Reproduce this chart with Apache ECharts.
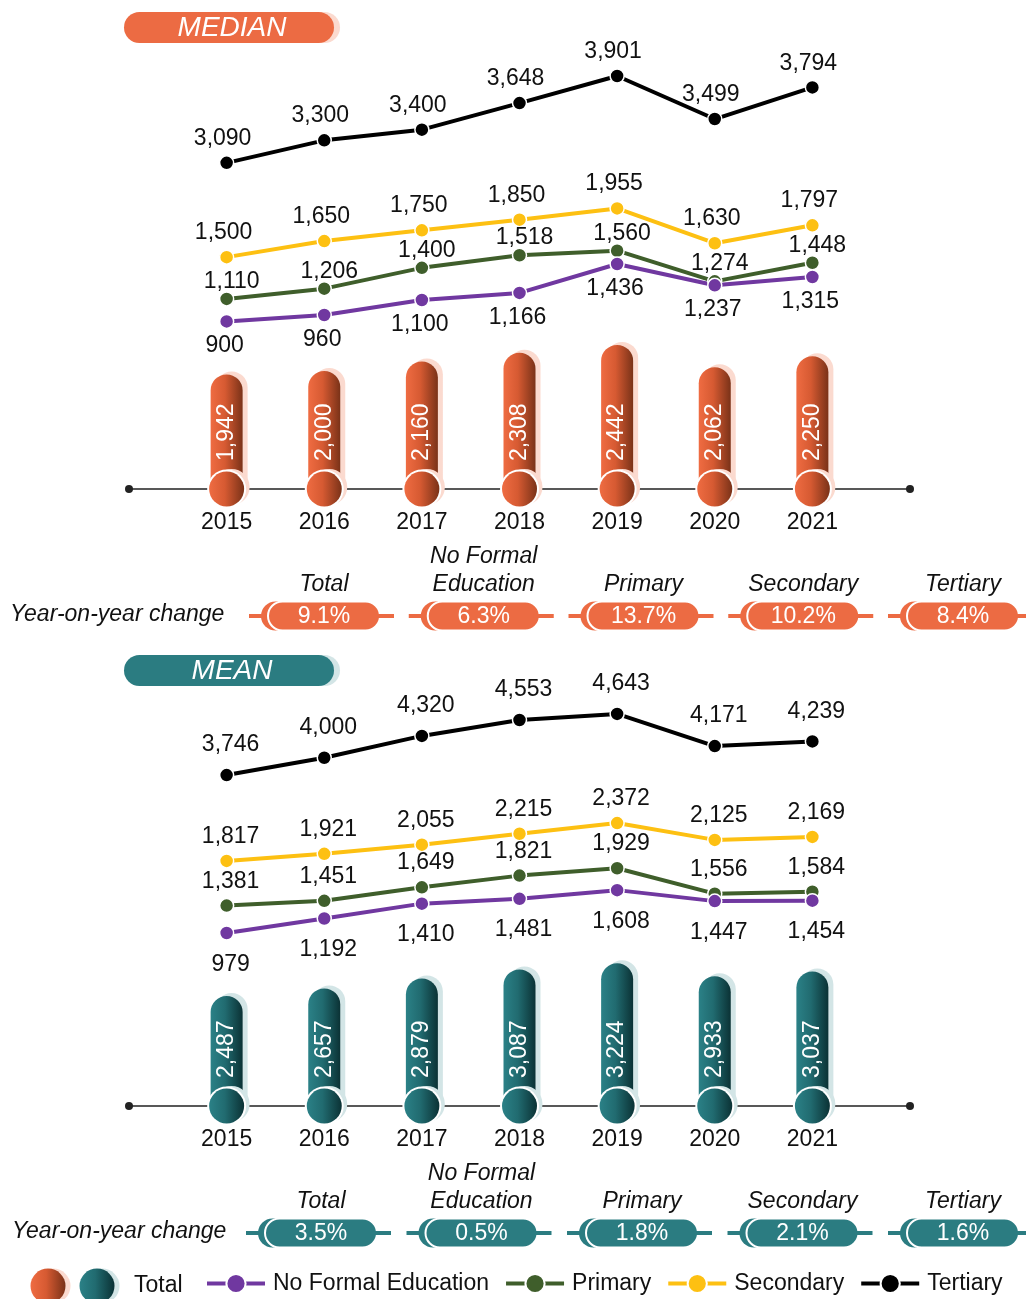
<!DOCTYPE html>
<html><head><meta charset="utf-8">
<script src="https://cdn.jsdelivr.net/npm/echarts@6/dist/echarts.min.js"></script>
<style>html,body{margin:0;padding:0;background:#fff}#c{width:1026px;height:1299px}</style>
</head><body><div id="c"></div>
<script>
// ---------- data ----------
const years = ['2015','2016','2017','2018','2019','2020','2021'];
const axisCats = [' ', '2015','2016','2017','2018','2019','2020','2021', '  '];
const medianTotal = [1942, 2000, 2160, 2308, 2442, 2062, 2250];
const medianNoFormal = [900, 960, 1100, 1166, 1436, 1237, 1315];
const medianPrimary = [1110, 1206, 1400, 1518, 1560, 1274, 1448];
const medianSecondary = [1500, 1650, 1750, 1850, 1955, 1630, 1797];
const medianTertiary = [3090, 3300, 3400, 3648, 3901, 3499, 3794];
const meanTotal = [2487, 2657, 2879, 3087, 3224, 2933, 3037];
const meanNoFormal = [979, 1192, 1410, 1481, 1608, 1447, 1454];
const meanPrimary = [1381, 1451, 1649, 1821, 1929, 1556, 1584];
const meanSecondary = [1817, 1921, 2055, 2215, 2372, 2125, 2169];
const meanTertiary = [3746, 4000, 4320, 4553, 4643, 4171, 4239];
const yoyCats = ['Total', 'No Formal\nEducation', 'Primary', 'Secondary', 'Tertiary'];
const medianYoY = [9.1, 6.3, 13.7, 10.2, 8.4];
const meanYoY = [3.5, 0.5, 1.8, 2.1, 1.6];
const seriesNames = ['No Formal Education', 'Primary', 'Secondary', 'Tertiary'];

// ---------- style ----------
const FONT = "'Liberation Sans', Arial, Helvetica, sans-serif";
const COL = { nfe: '#7038A0', pri: '#3F5E2B', sec: '#FDC012', ter: '#000000',
  orange: '#EC6B43', teal: '#2B7C81', orangePale: '#FBDACF', tealPale: '#D3E5E6' };
const gradOrange = { type: 'linear', x: 0, y: 0, x2: 1, y2: 0,
  colorStops: [{ offset: 0, color: '#EF6C42' }, { offset: 0.45, color: '#D65A32' }, { offset: 1, color: '#7A3218' }] };
const gradTeal = { type: 'linear', x: 0, y: 0, x2: 1, y2: 0,
  colorStops: [{ offset: 0, color: '#2B8187' }, { offset: 0.45, color: '#216B70' }, { offset: 1, color: '#0B3235' }] };

const fmt = v => Number(v).toLocaleString('en-US');
const pairs = arr => arr.map((v, i) => [years[i], v]);

function lineSeries(name, data, color, xi, yi, pos, off) {
  return { type: 'line', name, xAxisIndex: xi, yAxisIndex: yi, data: pairs(data),
    symbol: 'circle', symbolSize: 14, z: 5, silent: true,
    lineStyle: { color, width: 4 },
    itemStyle: { color, borderColor: '#fff', borderWidth: 1.5 },
    label: { show: true, position: pos, distance: 5, offset: off, color: '#111',
      fontSize: 23, fontFamily: FONT, formatter: p => fmt(p.value[1]) } };
}
function barSeries(name, data, grad, pale, xi, yi) {
  return { type: 'bar', name, xAxisIndex: xi, yAxisIndex: yi, data: pairs(data),
    barWidth: 32, z: 2, silent: true,
    itemStyle: { color: grad, borderRadius: [16, 16, 0, 0],
      shadowColor: pale, shadowOffsetX: 5, shadowOffsetY: -3, shadowBlur: 0 },
    label: { show: true, position: 'insideBottom', distance: 28, rotate: 90,
      align: 'left', verticalAlign: 'middle', color: '#fff', fontSize: 23, fontFamily: FONT,
      formatter: p => fmt(p.value[1]) } };
}
// round knob at the foot of each Total bar, positioned through the axes
function baseSeries(name, data, grad, pale, xi, yi) {
  return { type: 'custom', name, xAxisIndex: xi, yAxisIndex: yi, z: 4, silent: true, clip: false,
    data: data.map((v, i) => [years[i], v]),
    renderItem(params, api) {
      const p = api.coord([api.value(0), 0]);
      const cx = p[0], cy = p[1];
      return { type: 'group', children: [
        { type: 'circle', shape: { cx: cx + 5, cy: cy - 2, r: 18 }, style: { fill: pale } },
        { type: 'circle', shape: { cx: cx, cy: cy, r: 19.5 }, style: { fill: '#fff' } },
        { type: 'circle', shape: { cx: cx, cy: cy, r: 17.5 }, style: { fill: grad } }
      ] };
    } };
}
function yoySeries(vals, color, xi, yi) {
  return { type: 'custom', xAxisIndex: xi, yAxisIndex: yi, silent: true, z: 3, clip: false,
    data: vals.map((v, i) => [i, v]),
    renderItem(params, api) {
      const p = api.coord([api.value(0), 0]);
      const cx = p[0], cy = p[1];
      const v = api.value(1);
      return { type: 'group', children: [
        { type: 'line', shape: { x1: cx - 75, y1: cy, x2: cx - 50, y2: cy }, style: { stroke: color, lineWidth: 4 } },
        { type: 'rect', shape: { x: cx - 63, y: cy - 14.5, width: 112, height: 29, r: 14.5 }, style: { fill: color } },
        { type: 'rect', shape: { x: cx - 56, y: cy - 14.5, width: 112, height: 29, r: 14.5 }, style: { fill: color, stroke: '#fff', lineWidth: 2 } },
        { type: 'line', shape: { x1: cx + 50, y1: cy, x2: cx + 70, y2: cy }, style: { stroke: color, lineWidth: 4 } },
        { type: 'text', style: { x: cx, y: cy + 1, text: v.toFixed(1) + '%', align: 'center', verticalAlign: 'middle',
          fill: '#fff', fontSize: 23, fontFamily: FONT } }
      ] };
    } };
}

const hiddenCat = (gi) => ({ type: 'category', gridIndex: gi, data: axisCats, boundaryGap: false, show: false });
const yearAxis = (gi) => ({ type: 'category', gridIndex: gi, data: axisCats, boundaryGap: false,
  axisLine: { show: true, lineStyle: { color: '#222', width: 1.5 }, symbol: ['circle', 'circle'], symbolSize: [8, 8] },
  axisTick: { show: false },
  axisLabel: { interval: 0, margin: 22, fontSize: 23, color: '#111', fontFamily: FONT } });
const yoyAxis = (gi) => ({ type: 'category', gridIndex: gi, data: yoyCats, boundaryGap: false, position: 'top',
  axisLine: { show: false }, axisTick: { show: false },
  axisLabel: { interval: 0, margin: 3, fontSize: 23, lineHeight: 28, fontStyle: 'italic', color: '#111', fontFamily: FONT } });
const hy = (gi, min, max) => ({ type: 'value', gridIndex: gi, min, max, show: false, splitLine: { show: false } });

const option = {
  animation: false,
  backgroundColor: '#fff',
  grid: [
    { left: 129, right: 116, top: 60, height: 300 },   // 0 median lines
    { left: 129, right: 116, top: 312, height: 177 },  // 1 median bars
    { left: 324, right: 63, top: 602, height: 28 },    // 2 median yoy
    { left: 129, right: 116, top: 680, height: 300 },  // 3 mean lines
    { left: 129, right: 116, top: 929, height: 177 },  // 4 mean bars
    { left: 321, right: 63, top: 1219, height: 28 }    // 5 mean yoy
  ],
  xAxis: [hiddenCat(0), yearAxis(1), yoyAxis(2), hiddenCat(3), yearAxis(4), yoyAxis(5)],
  yAxis: [
    hy(0, 540, 3340), hy(0, 1250, 4050),
    hy(1, 0, 3000),
    hy(2, -1, 1),
    hy(3, 290, 4690), hy(3, 70, 4470), hy(3, 740, 5140),
    hy(4, 0, 4000),
    hy(5, -1, 1)
  ],
  legend: {
    data: seriesNames, left: 205, top: 1272, padding: 0, itemWidth: 58, itemHeight: 24, itemGap: 15,
    selectedMode: false,
    lineStyle: { width: 4 },
    textStyle: { fontSize: 23, color: '#111', fontFamily: FONT, padding: [0, 0, 0, 3] }
  },
  series: [
    lineSeries('Tertiary', medianTertiary, COL.ter, 0, 1, 'top', [-4, 0]),
    lineSeries('Secondary', medianSecondary, COL.sec, 0, 0, 'top', [-3, 0]),
    lineSeries('Primary', medianPrimary, COL.pri, 0, 0, 'top', [5, 7]),
    lineSeries('No Formal Education', medianNoFormal, COL.nfe, 0, 0, 'bottom', [-2, 0]),
    barSeries('Median total', medianTotal, gradOrange, COL.orangePale, 1, 2),
    baseSeries('Median base', medianTotal, gradOrange, COL.orangePale, 1, 2),
    yoySeries(medianYoY, COL.orange, 2, 3),
    lineSeries('Tertiary', meanTertiary, COL.ter, 3, 6, 'top', [4, -6]),
    lineSeries('Secondary', meanSecondary, COL.sec, 3, 5, 'top', [4, 0]),
    lineSeries('Primary', meanPrimary, COL.pri, 3, 4, 'top', [4, 0]),
    lineSeries('No Formal Education', meanNoFormal, COL.nfe, 3, 4, 'bottom', [4, 7]),
    barSeries('Mean total', meanTotal, gradTeal, COL.tealPale, 4, 7),
    baseSeries('Mean base', meanTotal, gradTeal, COL.tealPale, 4, 7),
    yoySeries(meanYoY, COL.teal, 5, 8)
  ],
  graphic: [
    // MEDIAN title pill
    { type: 'rect', shape: { x: 130, y: 12, width: 210, height: 31, r: 15.5 }, style: { fill: COL.orangePale }, silent: true },
    { type: 'rect', shape: { x: 124, y: 12, width: 210, height: 31, r: 15.5 }, style: { fill: COL.orange }, silent: true },
    { type: 'text', style: { x: 232, y: 28, text: 'MEDIAN', align: 'center', verticalAlign: 'middle', fill: '#fff',
      font: "italic 28px 'Liberation Sans', Arial, sans-serif" }, silent: true },
    // MEAN title pill
    { type: 'rect', shape: { x: 130, y: 655, width: 210, height: 31, r: 15.5 }, style: { fill: COL.tealPale }, silent: true },
    { type: 'rect', shape: { x: 124, y: 655, width: 210, height: 31, r: 15.5 }, style: { fill: COL.teal }, silent: true },
    { type: 'text', style: { x: 232, y: 671, text: 'MEAN', align: 'center', verticalAlign: 'middle', fill: '#fff',
      font: "italic 28px 'Liberation Sans', Arial, sans-serif" }, silent: true },
    // Year-on-year change labels
    { type: 'text', style: { x: 10, y: 615, text: 'Year-on-year change', align: 'left', verticalAlign: 'middle', fill: '#111',
      font: "italic 23px 'Liberation Sans', Arial, sans-serif" }, silent: true },
    { type: 'text', style: { x: 12, y: 1232, text: 'Year-on-year change', align: 'left', verticalAlign: 'middle', fill: '#111',
      font: "italic 23px 'Liberation Sans', Arial, sans-serif" }, silent: true },
    // Total legend entry
    { type: 'circle', shape: { cx: 53, cy: 1286, r: 17.5 }, style: { fill: COL.orangePale }, silent: true },
    { type: 'circle', shape: { cx: 48, cy: 1286, r: 17.5 }, style: { fill: gradOrange }, silent: true },
    { type: 'circle', shape: { cx: 102, cy: 1286, r: 17.5 }, style: { fill: COL.tealPale }, silent: true },
    { type: 'circle', shape: { cx: 97, cy: 1286, r: 17.5 }, style: { fill: gradTeal }, silent: true },
    { type: 'text', style: { x: 134, y: 1286, text: 'Total', align: 'left', verticalAlign: 'middle', fill: '#111',
      font: "23px 'Liberation Sans', Arial, sans-serif" }, silent: true }
  ]
};

const chart = echarts.init(document.getElementById('c'), null, { renderer: 'canvas' });
chart.setOption(option);
</script>
</body></html>
